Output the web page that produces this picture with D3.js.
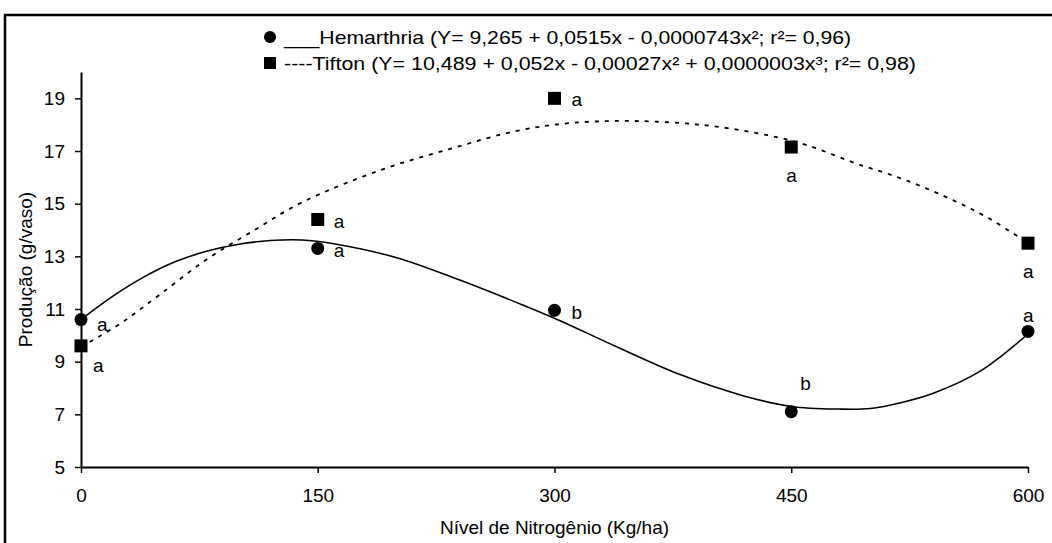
<!DOCTYPE html>
<html>
<head>
<meta charset="utf-8">
<script src="https://cdn.jsdelivr.net/npm/d3@7"></script>
<style>
	body { margin: 0; background: #fff; }
	svg text { font-family: 'Liberation Sans', Arial, sans-serif; fill: #000; }
</style>
</head>
<body>
<div id="chart"></div>
<script>
// measured points
const doses = [0, 150, 300, 450, 600];
const hemarthria = [10.6, 13.3, 10.95, 7.1, 10.15];
const tifton = [9.6, 14.4, 19.0, 17.15, 13.5];
const hemLetters = ['a', 'a', 'b', 'b', 'a'];
const tifLetters = ['a', 'a', 'a', 'a', 'a'];

// fitted curves
const hemCurveX = [0, 20, 40, 60, 80, 100, 120, 140, 160, 200, 240, 280, 300, 340, 380, 420, 450, 480, 500, 520, 540, 570, 600];
const hemCurveY = [10.6, 11.48, 12.22, 12.8, 13.2, 13.46, 13.6, 13.62, 13.48, 12.95, 12.1, 11.15, 10.65, 9.55, 8.5, 7.7, 7.3, 7.2, 7.22, 7.45, 7.8, 8.65, 10.05];
const tifCurveX = [0, 25, 50, 80, 110, 140, 190, 235, 275, 310, 350, 395, 435, 460, 490, 520, 550, 575, 600];
const tifCurveY = [9.56, 10.45, 11.55, 12.9, 14.0, 15.05, 16.28, 17.1, 17.75, 18.06, 18.14, 17.98, 17.6, 17.22, 16.55, 15.95, 15.2, 14.45, 13.5];

const xTicks = [0, 150, 300, 450, 600];
const yTicks = [5, 7, 9, 11, 13, 15, 17, 19];

const legendLabels = [
	'___Hemarthria (Y= 9,265 + 0,0515x - 0,0000743x²; r²= 0,96)',
	'----Tifton (Y= 10,489 + 0,052x - 0,00027x² + 0,0000003x³; r²= 0,98)'
];

(() => {
	const W = 1052;
	const H = 543;
	const margin = { top: 72, left: 81 };
	const width = 947;
	const height = 395;
	const fontSize = 19;

	const svg = d3.select('#chart').append('svg')
		.attr('width', W)
		.attr('height', H);

	// outer frame
	svg.append('rect')
		.attr('x', 5)
		.attr('y', 15)
		.attr('width', W)
		.attr('height', H)
		.style('fill', 'none')
		.style('stroke', '#000')
		.style('stroke-width', 2.5);

	const chart = svg.append('g')
		.attr('transform', `translate(${margin.left}, ${margin.top})`);

	const x = d3.scaleLinear().domain([0, 600]).range([0, width]);
	const y = d3.scaleLinear().domain([5, 20]).range([height, 0]);

	const xAxis = d3.axisBottom(x)
		.tickValues(xTicks)
		.tickSize(6)
		.tickSizeOuter(0)
		.tickPadding(16)
		.tickFormat(d3.format('d'));
	const yAxis = d3.axisLeft(y)
		.tickValues(yTicks)
		.tickSize(6)
		.tickSizeOuter(0)
		.tickPadding(10)
		.tickFormat(d3.format('d'));

	const xAxisG = chart.append('g')
		.attr('transform', `translate(0, ${height})`)
		.call(xAxis);
	const yAxisG = chart.append('g')
		.call(yAxis);

	[xAxisG, yAxisG].forEach(g => {
		g.select('.domain').style('stroke', '#000').style('stroke-width', 2);
		g.selectAll('.tick line').style('stroke', '#000').style('stroke-width', 1.5);
		g.selectAll('.tick text')
			.style('font-size', fontSize + 'px')
			.style('font-family', "'Liberation Sans', Arial, sans-serif")
			.style('fill', '#000');
	});

	// curves
	const line = d3.line()
		.x(d => x(d[0]))
		.y(d => y(d[1]))
		.curve(d3.curveCatmullRom.alpha(0.5));

	chart.append('path')
		.datum(hemCurveX.map((v, i) => [v, hemCurveY[i]]))
		.attr('d', line)
		.style('fill', 'none')
		.style('stroke', '#000')
		.style('stroke-width', 1.6);

	chart.append('path')
		.datum(tifCurveX.map((v, i) => [v, tifCurveY[i]]))
		.attr('d', line)
		.style('fill', 'none')
		.style('stroke', '#000')
		.style('stroke-width', 1.8)
		.style('stroke-dasharray', '4, 6');

	// markers
	const r = 6.5;
	const sq = 13;
	chart.selectAll('.hem')
		.data(doses)
		.enter().append('circle')
		.attr('class', 'hem')
		.attr('cx', d => x(d))
		.attr('cy', (d, i) => y(hemarthria[i]))
		.attr('r', r)
		.style('fill', '#000');

	chart.selectAll('.tif')
		.data(doses)
		.enter().append('rect')
		.attr('class', 'tif')
		.attr('x', d => x(d) - sq / 2)
		.attr('y', (d, i) => y(tifton[i]) - sq / 2)
		.attr('width', sq)
		.attr('height', sq)
		.style('fill', '#000');

	// significance letters, offsets from the marker
	const hemOffsets = [[16, 11], [16, 9], [17, 9], [9, -22], [-5, -9]];
	const tifOffsets = [[12, 26], [16, 9], [17, 8], [-5, 35], [-5, 35]];

	chart.selectAll('.hemLetter')
		.data(doses)
		.enter().append('text')
		.attr('class', 'hemLetter')
		.attr('x', (d, i) => x(d) + hemOffsets[i][0])
		.attr('y', (d, i) => y(hemarthria[i]) + hemOffsets[i][1])
		.style('font-size', fontSize + 'px')
		.text((d, i) => hemLetters[i]);

	chart.selectAll('.tifLetter')
		.data(doses)
		.enter().append('text')
		.attr('class', 'tifLetter')
		.attr('x', (d, i) => x(d) + tifOffsets[i][0])
		.attr('y', (d, i) => y(tifton[i]) + tifOffsets[i][1])
		.style('font-size', fontSize + 'px')
		.text((d, i) => tifLetters[i]);

	// axis titles
	svg.append('text')
		.attr('x', margin.left + width / 2)
		.attr('y', 534)
		.style('font-size', fontSize + 'px')
		.style('text-anchor', 'middle')
		.text('Nível de Nitrogênio (Kg/ha)');
	svg.append('text')
		.attr('transform', 'rotate(-90)')
		.attr('x', -(margin.top + height / 2))
		.attr('y', 32)
		.style('font-size', fontSize + 'px')
		.style('text-anchor', 'middle')
		.text('Produção (g/vaso)');

	// legend
	const legend = svg.append('g');
	legend.append('circle')
		.attr('cx', 270)
		.attr('cy', 37)
		.attr('r', 6)
		.style('fill', '#000');
	legend.append('rect')
		.attr('x', 264)
		.attr('y', 57)
		.attr('width', 12)
		.attr('height', 12)
		.style('fill', '#000');
	const legendWidths = [567, 632];
	legend.selectAll('.leg')
		.data(legendLabels)
		.enter().append('text')
		.attr('class', 'leg')
		.attr('x', 284)
		.attr('y', (d, i) => 44 + i * 26)
		.attr('textLength', (d, i) => legendWidths[i])
		.attr('lengthAdjust', 'spacingAndGlyphs')
		.style('font-size', fontSize + 'px')
		.text(d => d);
})();
</script>
</body>
</html>
